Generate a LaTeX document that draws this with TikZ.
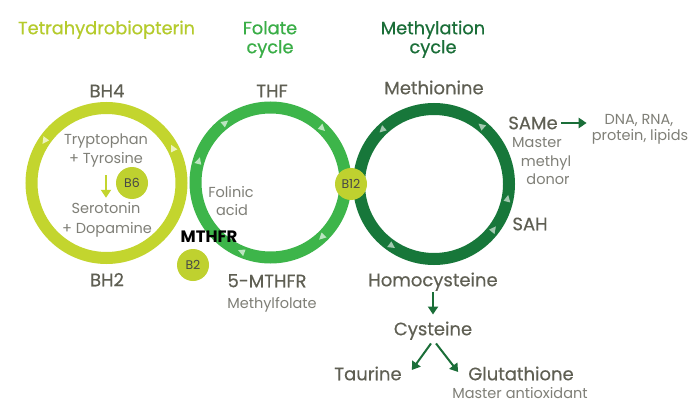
\documentclass[tikz,border=0pt]{standalone}
\usepackage{fontspec}
\setmainfont{Poppins}
\usetikzlibrary{arrows.meta,calc}
\definecolor{lime}{HTML}{C3D52E}
\definecolor{limeB}{HTML}{BFD12F}
\definecolor{limeH}{HTML}{B5CB2C}
\definecolor{midg}{HTML}{3DB54A}
\definecolor{midH}{HTML}{3AAE47}
\definecolor{darkg}{HTML}{17773A}
\definecolor{darkH}{HTML}{1A6E38}
\definecolor{txt}{HTML}{5F5F53}
\definecolor{txtl}{HTML}{7F7F77}
\newcommand\ringtri[4]{%
  \fill[#4] ($(#1)+({#2+2.6*#3}:75pt)$) -- ($(#1)+({#2-2.6*#3}:78.5pt)$) -- ($(#1)+({#2-2.6*#3}:71.5pt)$) -- cycle;}
\begin{document}
\begin{tikzpicture}[x=1pt,y=-1pt,
  ring/.style={line width=12pt},
  hdr/.style={font=\fontsize{17.8}{19}\selectfont\addfontfeature{FakeBold=0.6}, text height=12.5pt, text depth=0pt, inner sep=0pt},
  lbl/.style={font=\fontsize{18}{20}\selectfont\addfontfeature{FakeBold=0.3}, text=txt, text height=12.5pt, text depth=0pt, inner sep=0pt},
  sm/.style={font=\fontsize{14.5}{16}\selectfont, text=txtl, text height=10pt, text depth=0pt, inner sep=0pt},
  vit/.style={circle, fill=limeB, minimum size=32pt, inner sep=0pt, font=\fontsize{12.5}{14}\selectfont, text=black!72},
  arr/.style={line width=2pt, -{Triangle[width=10pt,length=8pt]}}
]
\useasboundingbox (0,0) rectangle (700,414);
\fill[white] (0,0) rectangle (700,414);
% ring centres
\coordinate (L) at (106.5,183);
\coordinate (M) at (270.5,182.5);
\coordinate (R) at (434,184);
% rings
\draw[ring, lime] (L) circle[radius=75pt];
\draw[ring, midg] (M) circle[radius=75pt];
\draw[ring, darkg] (R) circle[radius=75pt];
% ring markers
\ringtri{L}{146}{1}{lime!30}
\ringtri{L}{28}{1}{lime!30}
\foreach \a in {127,46,163,-47,-113} {\ringtri{M}{\a}{-1}{midg!35}}
\foreach \a in {134,51,-11,-37,-124} {\ringtri{R}{\a}{1}{darkg!40}}
% headers
\node[hdr, text=limeH] (h1) at (106.5,28) {Tetrahydrobiopterin};
\node[hdr, text=midH] (h2a) at (270,28) {Folate};
\node[hdr, text=midH] (h2b) at (270,47) {cycle};
\node[hdr, text=darkH] (h3a) at (433,28) {Methylation};
\node[hdr, text=darkH] (h3b) at (433,47) {cycle};
% labels
\node[lbl] (bh4) at (107,91) {BH4};
\node[lbl] (thf) at (272,91) {THF};
\node[lbl] (met) at (434,88) {Methionine};
\node[lbl] (bh2) at (107,280) {BH2};
\node[lbl] (mthf) at (267,281) {5-MTHFR};
\node[sm] (mfol) at (272,303) {Methylfolate};
\node[lbl] (homo) at (433,280) {Homocysteine};
\node[lbl] (cys) at (433,329) {Cysteine};
\node[lbl] (tau) at (368,374) {Taurine};
\node[lbl] (glu) at (521,374) {Glutathione};
\node[sm] (anti) at (520,393) {Master antioxidant};
\node[lbl] (same) at (533,123) {SAMe};
\node[lbl] (sah) at (530,224) {SAH};
\node[sm] (mas1) at (537,142) {Master};
\node[sm] (mas2) at (546,161) {methyl};
\node[sm] (mas3) at (548,179) {donor};
\node[sm] (dna1) at (639,120) {DNA, RNA,};
\node[sm] (dna2) at (640,136) {protein, lipids};
% inside left ring
\node[sm] (try1) at (106,140) {Tryptophan};
\node[sm] (try2) at (106,158) {+ Tyrosine};
\node[sm] (ser1) at (106,208) {Serotonin};
\node[sm] (ser2) at (107,228) {+ Dopamine};
\node[sm] (fol1) at (231,192) {Folinic};
\node[sm] (fol2) at (232,210) {acid};
\node[font=\fontsize{16.5}{18}\selectfont\bfseries, text=black, inner sep=0pt, text height=11.5pt, text depth=0pt] (mthfr) at (209,237) {MTHFR};
% vitamins
\node[vit] (b6) at (132,183) {B6};
\node[vit] (b12) at (351,184) {B12};
\node[vit] (b2) at (193,265) {B2};
% connectors
\draw[arr, lime] ([yshift=-12pt]try2.south) -- ([yshift=5pt]ser1.north);
\draw[arr, darkH] ([xshift=3pt]same.east) -- ([xshift=-5pt]same.east -| dna2.west);
\draw[arr, darkH] ([yshift=-6pt]homo.south) -- ([yshift=8pt]cys.north);
\draw[arr, darkH] ([xshift=-2pt,yshift=-8pt]cys.south) -- ([xshift=10pt,yshift=4pt]tau.east);
\draw[arr, darkH] ([xshift=3pt,yshift=-8pt]cys.south) -- ([xshift=-10pt,yshift=2pt]glu.west);
\end{tikzpicture}
\end{document}
